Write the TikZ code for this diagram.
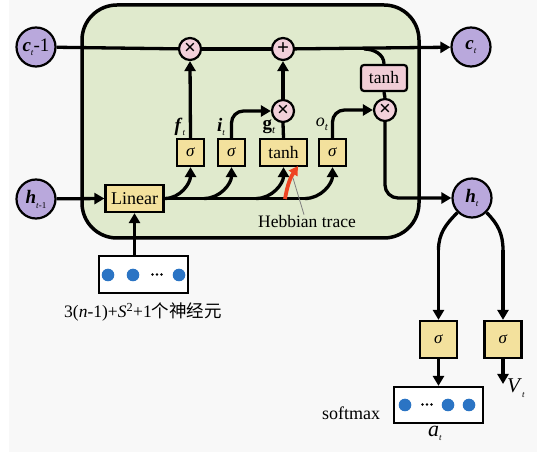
\documentclass[tikz,border=0pt]{standalone}
\usepackage{fontspec}
\setmainfont{Liberation Serif}
\newfontfamily\cjk{Noto Sans CJK SC}
\usetikzlibrary{arrows.meta}
\definecolor{panelgreen}{HTML}{E0EACD}
\definecolor{boxyellow}{HTML}{F3E19D}
\definecolor{circpurple}{HTML}{B9A8DC}
\definecolor{circpink}{HTML}{F2D0DA}
\definecolor{tanhpink}{HTML}{F1CDD6}
\definecolor{dotblue}{HTML}{2B74C4}
\definecolor{hebred}{HTML}{EE4422}
\definecolor{bggray}{HTML}{F8F8F8}
\newcommand{\fs}[1]{\fontsize{#1}{#1}\selectfont}
\newcommand{\tdots}{\tikz[baseline=-2.5pt]{\foreach \k in {0,1,2}{\fill (\k*4.5pt,0) circle (1.4pt);}}}
\begin{document}
\begin{tikzpicture}[x=1pt,y=1pt,
  line/.style={line width=3.3pt, draw=black},
  arr/.style={line width=3.3pt, draw=black, -{Triangle[length=10pt,width=11pt]}},
  gbox/.style={draw=black, line width=2.2pt, fill=boxyellow, minimum width=27pt, minimum height=27pt, inner sep=0pt, font=\fs{17}},
  pbox/.style={draw=black, line width=2.2pt, fill=tanhpink, rounded corners=3pt, minimum width=46pt, minimum height=26pt, inner sep=0pt, font=\fs{17.5}},
  vcirc/.style={circle, draw=black, line width=2.2pt, fill=circpurple, minimum size=39pt, inner sep=0pt, font=\fs{19}},
  mcirc/.style={circle, draw=black, line width=2.2pt, fill=circpink, minimum size=22pt, inner sep=0pt, font=\fs{21}\bfseries},
  vecbox/.style={draw=black, line width=2.2pt, fill=white, inner sep=0pt},
  lbl/.style={inner sep=0pt},
  dot/.style={fill=dotblue}
]
\useasboundingbox (0,0) rectangle (547,-454);
\fill[white] (0,0) rectangle (547,-454);
\fill[bggray] (9,0) rectangle (537,-452);

% panel
\draw[line width=3.5pt, fill=panelgreen, rounded corners=35pt] (82,-5) rectangle (419,-238);

% state circles
\node[vcirc] (cprev) at (36,-47) {\textbf{\textit{c}}\raisebox{-4pt}{\fs{9}\textit{t}}-1};
\node[vcirc] (hprev) at (36,-199) {\textbf{\textit{h}}\raisebox{-5pt}{\fs{9}\textit{t}-1}};
\node[vcirc] (ct) at (471,-47) {\textbf{\textit{c}}\raisebox{-4pt}{\fs{9}\textit{t}}};
\node[vcirc] (ht) at (472,-198) {\textbf{\textit{h}}\raisebox{-4pt}{\fs{9}\textit{t}}};

% operators
\node[mcirc] (fx) at (190,-49) {\raisebox{1pt}{×}};
\node[mcirc] (px) at (283,-49) {\raisebox{1pt}{+}};
\node[mcirc] (gx) at (283,-111) {\raisebox{1pt}{×}};
\node[mcirc] (ox) at (385,-110) {\raisebox{1pt}{×}};
\node[pbox] (th) at (384,-78) {tanh};

% gates
\node[gbox] (fs) at (190.5,-152.5) {\textit{σ}};
\node[gbox] (is) at (231.5,-152.5) {\textit{σ}};
\node[gbox, minimum width=47pt, font=\fs{17.5}] (gt) at (283.5,-152.5) {tanh};
\node[gbox] (os) at (332.5,-152.5) {\textit{σ}};
\node[gbox, minimum width=58pt, font=\fs{18}] (lin) at (134.5,-198.5) {Linear};

% gate labels
\node[lbl, font=\fs{19}] (flab) at (180,-127) {\textbf{\textit{f}}\raisebox{-4pt}{\fs{9}\textit{t}}};
\node[lbl, font=\fs{19}] (ilab) at (221,-127) {\textbf{\textit{i}}\raisebox{-4pt}{\fs{9}\textit{t}}};
\node[lbl, font=\fs{19}] (glab) at (269,-127) {\textbf{g}\raisebox{-4pt}{\fs{11}\textit{t}}};
\node[lbl, font=\fs{18}] (olab) at (322,-124) {\textit{o}\raisebox{-4pt}{\fs{11}\textit{t}}};

% cell state line
\draw[line] (cprev) -- (fx);
\draw[line] (fx) -- (px);
\draw[arr] (px) -- (ct);
\coordinate (br) at (364,-49);
\draw[line] (br) to[out=0,in=90] (th.north);
\draw[line] (th.south) -- (ox.north);
\draw[arr, rounded corners=13pt] (ox.south) |- (ht.west);

% gate outputs
\draw[arr] (fs.north) -- (fx.south);
\draw[arr, rounded corners=12pt] (is.north) |- (gx.west);
\draw[line] (gt.north) -- (gx.south);
\draw[arr] (gx.north) -- (px.south);
\draw[arr, rounded corners=12pt] (os.north) |- (ox.west);

% linear outputs
\draw[arr] (hprev) -- (lin.west);
\coordinate (bi) at (204,-198.5);
\coordinate (bg) at (256,-198.5);
\coordinate (bo) at (305,-198.5);
\draw[line] (lin.east) -- (bo);
\draw[arr] (lin.east) to[out=0,in=-90] (fs.south);
\draw[arr] (bi) to[out=0,in=-90] (is.south);
\draw[arr] (bg) to[out=0,in=-90] (gt.south);
\draw[arr] (bo) to[out=0,in=-90] (os.south);

% Hebbian trace
\coordinate (hs) at (285,-199);
\coordinate (he) at (298,-166);
\coordinate (hp) at (293,-178);
\draw[hebred, line width=3.8pt, -{Triangle[length=9pt,width=10pt]}] (hs) to[bend left=12] (he);
\node[lbl, font=\fs{17.5}] (heb) at (307,-222) {Hebbian trace};
\draw[gray, line width=0.8pt] ([xshift=-3pt,yshift=1pt]heb.north) -- (hp);

% input vector
\node[vecbox, minimum width=89pt, minimum height=37pt] (inp) at (143.5,-274.5) {};
\fill[dot] (108,-275) circle (6.3);
\fill[dot] (133,-275) circle (6.3);
\node[lbl] (idots) at (157,-275) {\tdots};
\fill[dot] (179,-275) circle (6.3);
\draw[arr] (lin.south |- inp.north) -- (lin.south);
\node[lbl, font=\fs{17.5}] (neur) at (143,-312) {3(\textit{n}-1)+\textit{S}\textsuperscript{2}+1{\cjk 个神经元}};

% output heads
\node[gbox, minimum size=37pt] (sa) at (438.5,-339.5) {\textit{σ}};
\node[gbox, minimum size=37pt] (sv) at (503,-339.5) {\textit{σ}};
\coordinate (la) at (438.5,-250);
\coordinate (ra) at (503,-250);
\draw[line] (ht.225) to[out=225,in=90] (la);
\draw[arr] (la) -- (sa.north);
\draw[line] (ht.-45) to[out=-45,in=90] (ra);
\draw[arr] (ra) -- (sv.north);

\node[vecbox, minimum width=89pt, minimum height=36pt] (smx) at (438.5,-405) {};
\fill[dot] (405,-405) circle (6.3);
\node[lbl] (sdots) at (427,-405) {\tdots};
\fill[dot] (448,-405) circle (6.3);
\fill[dot] (469,-405) circle (6.3);
\draw[arr] (sa.south) -- (smx.north);
\coordinate (vend) at (503,-384);
\draw[arr] (sv.south) -- (vend);
\node[lbl, font=\fs{18}] (smlab) at (351,-413) {softmax};
\node[lbl, font=\fs{22}] (alab) at (435,-433) {\textit{a}\raisebox{-4pt}{\fs{9}\textit{t}}};
\node[lbl, font=\fs{21}] (vlab) at (516,-388) {\textit{V}\raisebox{-5pt}{\fs{9}\textit{t}}};
\end{tikzpicture}
\end{document}
